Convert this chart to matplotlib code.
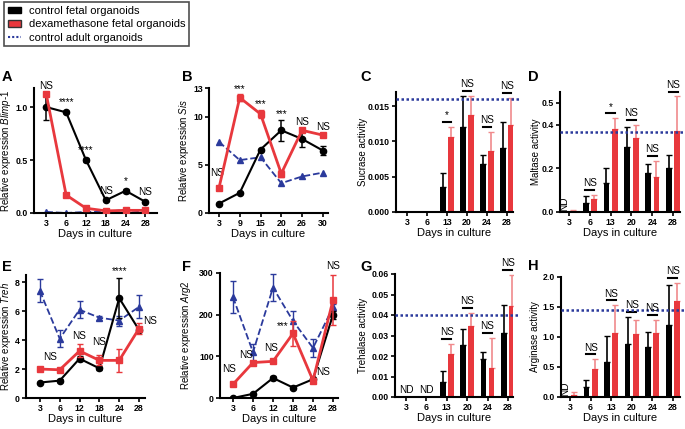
import numpy as np
import matplotlib
matplotlib.use('Agg')
import matplotlib.pyplot as plt
import matplotlib.transforms as mtransforms
from matplotlib.patches import Patch
from matplotlib.lines import Line2D

plt.rcParams['font.family'] = ['Liberation Sans', 'DejaVu Sans']
plt.rcParams['mathtext.fontset'] = 'custom'
plt.rcParams['mathtext.it'] = 'Liberation Sans:italic'
plt.rcParams['mathtext.rm'] = 'Liberation Sans'

BLACK = '#000000'
RED = '#e8383d'
LRED = '#f08a8c'
BLUE = '#2b3a9c'

# ---- data ----
# A Blimp-1
daysA = ['3', '6', '12', '18', '24', '28']
blimp_ctrl = [1.0, 0.95, 0.50, 0.12, 0.21, 0.105]
blimp_ctrl_err = [0.12, 0.01, 0.02, 0.01, 0.02, 0.01]
blimp_dex = [1.12, 0.17, 0.045, 0.02, 0.025, 0.025]
blimp_dex_err = [0.02, 0.01, 0.005, 0.005, 0.005, 0.005]
blimp_adult = [0.01, 0.0, 0.01, 0.01, 0.03, 0.01]
blimp_sig = ['NS', '****', '****', 'NS', '*', 'NS']

# B Sis
daysB = ['3', '9', '15', '20', '26', '30']
sis_ctrl = [0.98, 2.1, 6.6, 8.6, 7.7, 6.5]
sis_ctrl_err = [0.05, 0.1, 0.1, 1.1, 0.8, 0.5]
sis_dex = [2.6, 12.0, 10.3, 4.1, 8.6, 8.1]
sis_dex_err = [0.2, 0.35, 0.4, 0.35, 0.1, 0.1]
sis_adult = [7.4, 5.5, 5.8, 3.1, 3.8, 4.2]
sis_sig = ['NS', '***', '***', '***', 'NS', 'NS']

# E Treh
daysE = ['3', '6', '12', '18', '24', '28']
treh_ctrl = [1.07, 1.2, 2.72, 2.05, 6.9, 4.7]
treh_ctrl_err = [0.05, 0.1, 0.15, 0.1, 1.4, 0.1]
treh_dex = [2.0, 1.95, 3.25, 2.6, 2.6, 4.8]
treh_dex_err = [0.05, 0.05, 0.45, 0.35, 0.8, 0.35]
treh_adult = [7.4, 4.1, 6.1, 5.55, 5.35, 6.3]
treh_adult_err = [0.8, 0.6, 0.6, 0.15, 0.35, 0.8]
treh_sig = ['NS', 'NS', 'NS', '****', 'NS']

# F Arg2
daysF = ['3', '6', '12', '18', '24', '28']
arg2_ctrl = [0, 10, 48, 25, 45, 200]
arg2_ctrl_err = [2, 2, 5, 3, 3, 10]
arg2_dex = [33, 85, 88, 155, 42, 235]
arg2_dex_err = [3, 5, 5, 30, 5, 60]
arg2_adult = [242, 110, 265, 185, 120, 218]
arg2_adult_err = [38, 20, 33, 25, 22, 8]
arg2_sig = ['NS', 'NS', 'NS', '***', 'NS', 'NS']

# bar charts
daysBar = ['3', '6', '13', '20', '24', '28']
sucr_ctrl = [0, 0, 0.0036, 0.0120, 0.0068, 0.0090]
sucr_ctrl_top = [0, 0, 0.0055, 0.0165, 0.0081, 0.0127]
sucr_dex = [0, 0, 0.0106, 0.0137, 0.0086, 0.0123]
sucr_dex_top = [0, 0, 0.0121, 0.0165, 0.0114, 0.0162]
sucr_adult = 0.016
sucr_sig = ['', '', '*', 'NS', 'NS', 'NS']

malt_ctrl = [0, 0.04, 0.135, 0.30, 0.18, 0.20]
malt_ctrl_top = [0, 0.072, 0.20, 0.39, 0.22, 0.26]
malt_dex = [0.005, 0.06, 0.38, 0.34, 0.16, 0.37]
malt_dex_top = [0.01, 0.078, 0.43, 0.40, 0.235, 0.53]
malt_adult = 0.365
malt_sig = ['ND', 'NS', '*', 'NS', 'NS', 'NS']

treha_ctrl = [0, 0, 0.0075, 0.0255, 0.0185, 0.031]
treha_ctrl_top = [0, 0, 0.0125, 0.033, 0.022, 0.045]
treha_dex = [0, 0, 0.021, 0.0345, 0.014, 0.0445]
treha_dex_top = [0, 0, 0.026, 0.041, 0.029, 0.0597]
treha_adult = 0.040
treha_sig = ['ND', 'ND', 'NS', 'NS', 'NS', 'NS']

argi_ctrl = [0, 0.16, 0.58, 0.89, 0.84, 1.20]
argi_ctrl_top = [0, 0.29, 1.01, 1.34, 1.08, 1.87]
argi_dex = [0.04, 0.47, 1.07, 1.05, 1.06, 1.60]
argi_dex_top = [0.08, 0.63, 1.53, 1.28, 1.29, 1.90]
argi_adult = 1.45
argi_sig = ['ND', 'NS', 'NS', 'NS', 'NS', 'NS']

W, H = 685, 429
fig = plt.figure(figsize=(W / 100, H / 100), dpi=100)

TICK_FS = 6.3
XLAB_FS = 8
YLAB_FS = 7
SIG_FS = 7.2


def make_ax(x0, top, x1, bottom):
    return fig.add_axes([x0 / W, 1 - bottom / H, (x1 - x0) / W, (bottom - top) / H])


def style(ax, labels, xlim, ylim, yticks, yticklabels, ylabel, label_px):
    for s in ['top', 'right']:
        ax.spines[s].set_visible(False)
    for s in ['left', 'bottom']:
        ax.spines[s].set_linewidth(1.5)
    ax.set_xlim(*xlim)
    ax.set_ylim(*ylim)
    ax.set_xticks(range(len(labels)))
    ax.set_xticklabels(labels, fontweight='bold', fontsize=TICK_FS)
    ax.set_yticks(yticks)
    if yticklabels is not None:
        ax.set_yticklabels(yticklabels)
    for t in ax.get_yticklabels():
        t.set_fontweight('bold')
        t.set_fontsize(TICK_FS)
    ax.tick_params(width=1.2, length=3, pad=1.5)
    ax.set_xlabel('Days in culture', fontsize=XLAB_FS, labelpad=0.5)
    ax.set_ylabel(ylabel, fontsize=YLAB_FS)
    tr = mtransforms.blended_transform_factory(fig.transFigure, ax.transAxes)
    ax.yaxis.set_label_coords(label_px / W, 0.5, transform=tr)


def line_panel(ax, ctrl, cerr, dex, derr, adult, aerr=None):
    x = np.arange(len(ctrl))
    ax.errorbar(x, ctrl, yerr=cerr, color=BLACK, lw=1.5, marker='o', ms=4.5,
                capsize=2.5, elinewidth=1.1, zorder=3)
    ax.errorbar(x, dex, yerr=derr, color=RED, lw=2.0, marker='s', ms=5,
                capsize=2.5, elinewidth=1.1, zorder=4)
    ax.errorbar(x, adult, yerr=aerr, color=BLUE, lw=1.3, ls='--', marker='^',
                ms=4.5, capsize=2.5, elinewidth=1.0, zorder=2)


def bar_panel(ax, ctrl, ctop, dex, dtop, adult, sig, ymax, nd_rot):
    x = np.arange(len(ctrl))
    w = 0.28
    ax.bar(x - 0.2, ctrl, w, color=BLACK, zorder=2)
    ax.bar(x + 0.2, dex, w, color=RED, zorder=2)
    ci = [i for i in x if ctop[i] > 0]
    ax.errorbar([i - 0.2 for i in ci], [ctrl[i] for i in ci],
                yerr=[[0] * len(ci), [ctop[i] - ctrl[i] for i in ci]],
                fmt='none', ecolor=BLACK, elinewidth=1.2, capsize=2, zorder=1)
    di = [i for i in x if dtop[i] > 0]
    ax.errorbar([i + 0.2 for i in di], [dex[i] for i in di],
                yerr=[[0] * len(di), [dtop[i] - dex[i] for i in di]],
                fmt='none', ecolor=LRED, elinewidth=1.2, capsize=2, zorder=1)
    ax.axhline(adult, xmax=1.06, color=BLUE, ls=(0, (1, 1)), lw=1.8, zorder=3,
               clip_on=False)
    for i, s in enumerate(sig):
        if s == '':
            continue
        if s == 'ND':
            if nd_rot:
                ax.text(i - 0.22, 0.01 * ymax, 'ND', rotation=90, ha='center',
                        va='bottom', fontsize=SIG_FS)
            else:
                ax.text(i, 0.02 * ymax, 'ND', ha='center', va='bottom', fontsize=SIG_FS)
            continue
        yl = max(ctop[i], dtop[i]) + 0.04 * ymax
        ax.plot([i - 0.22, i + 0.22], [yl, yl], color=BLACK, lw=1.5, clip_on=False)
        ax.text(i, yl + 0.015 * ymax, s, ha='center', va='bottom', fontsize=SIG_FS,
                clip_on=False)


def sig_text(ax, pos, sig):
    for (xx, yy), s in zip(pos, sig):
        ax.text(xx, yy, s, ha='center', va='bottom', fontsize=SIG_FS, clip_on=False)


# A
axA = make_ax(34, 88, 157, 213)
line_panel(axA, blimp_ctrl, blimp_ctrl_err, blimp_dex, blimp_dex_err, blimp_adult)
style(axA, daysA, (-0.62, 5.58), (0, 1.18), [0, 0.5, 1.0], ['0.0', '0.5', '1.0'],
      r'Relative expression $\it{Blimp}$-$\it{1}$', 13)
sig_text(axA, [(0, 1.15), (1, 1.0), (2, 0.55), (3, 0.16), (4, 0.25), (5, 0.15)],
         blimp_sig)

# B
axB = make_ax(209, 88, 328, 213)
line_panel(axB, sis_ctrl, sis_ctrl_err, sis_dex, sis_dex_err, sis_adult)
style(axB, daysB, (-0.48, 5.25), (0, 13), [0, 5, 10, 13], None,
      r'Relative expression $\it{Sis}$', 191)
sig_text(axB, [(-0.1, 3.6), (1, 12.4), (2, 10.8), (3, 9.8), (4, 8.9), (5, 8.4)],
         sis_sig)

# C
axC = make_ax(396, 92, 513, 212)
bar_panel(axC, sucr_ctrl, sucr_ctrl_top, sucr_dex, sucr_dex_top, sucr_adult,
          sucr_sig, 0.017, True)
style(axC, daysBar, (-0.55, 5.3), (0, 0.017), [0, 0.005, 0.010, 0.015],
      ['0.000', '0.005', '0.010', '0.015'], 'Sucrase activity', 368)

# D
axD = make_ax(560, 92, 680, 212)
bar_panel(axD, malt_ctrl, malt_ctrl_top, malt_dex, malt_dex_top, malt_adult,
          malt_sig, 0.55, True)
style(axD, daysBar, (-0.43, 5.33), (0, 0.55), [0, 0.2, 0.4, 0.5],
      ['0.0', '0.2', '0.4', '0.5'], 'Maltase activity', 541)

# E
axE = make_ax(26, 275, 145, 398)
line_panel(axE, treh_ctrl, treh_ctrl_err, treh_dex, treh_dex_err, treh_adult,
           treh_adult_err)
style(axE, daysE, (-0.7, 5.3), (0, 8.5), [0, 2, 4, 6, 8], None,
      r'Relative expression $\it{Treh}$', 13)
sig_text(axE, [(0.5, 2.5), (2.0, 3.95), (3.0, 3.5), (4.0, 8.4), (5.55, 4.95)],
         treh_sig)

# F
axF = make_ax(220, 273, 338, 398)
line_panel(axF, arg2_ctrl, arg2_ctrl_err, arg2_dex, arg2_dex_err, arg2_adult,
           arg2_adult_err)
style(axF, daysF, (-0.65, 5.25), (0, 300), [0, 100, 200, 300], None,
      r'Relative expression $\it{Arg2}$', 193)
sig_text(axF, [(-0.2, 57), (0.65, 92), (1.9, 108), (2.5, 160), (4.5, 50), (5.0, 305)],
         arg2_sig)

# G
axG = make_ax(395, 274, 513, 397)
bar_panel(axG, treha_ctrl, treha_ctrl_top, treha_dex, treha_dex_top, treha_adult,
          treha_sig, 0.06, False)
style(axG, daysBar, (-0.54, 5.25), (0, 0.06), np.arange(0, 0.061, 0.01),
      ['0.00', '0.01', '0.02', '0.03', '0.04', '0.05', '0.06'],
      'Trehalase activity', 368)

# H
axH = make_ax(561, 277, 680, 397)
bar_panel(axH, argi_ctrl, argi_ctrl_top, argi_dex, argi_dex_top, argi_adult,
          argi_sig, 2.0, True)
style(axH, daysBar, (-0.44, 5.35), (0, 2.0), [0, 0.5, 1.0, 1.5, 2.0],
      ['0.0', '0.5', '1.0', '1.5', '2.0'], 'Arginase activity', 540)

# panel letters
for lab, px, py in [('A', 2, 77), ('B', 182, 77), ('C', 360, 77), ('D', 528, 77),
                    ('E', 2, 267), ('F', 182, 267), ('G', 360, 267), ('H', 528, 266)]:
    fig.text(px / W, 1 - py / H, lab, fontsize=10.5, fontweight='bold',
             ha='left', va='center')

# legend
handles = [Patch(facecolor=BLACK, edgecolor=BLACK),
           Patch(facecolor=RED, edgecolor='#333333'),
           Line2D([0], [0], color=BLUE, ls=(0, (1, 1)), lw=1.5)]
leg = fig.legend(handles, ['control fetal organoids', 'dexamethasone fetal organoids',
                           'control adult organoids'],
                 loc='upper left', bbox_to_anchor=(4 / W, 1 - 2 / H), fontsize=8,
                 frameon=True, fancybox=False, borderpad=0.35, labelspacing=0.3,
                 handlelength=1.2, handleheight=0.55, handletextpad=0.7,
                 borderaxespad=0)
leg.get_frame().set_edgecolor('#222222')
leg.get_frame().set_linewidth(1.2)

fig.savefig('out.png', dpi=100)
